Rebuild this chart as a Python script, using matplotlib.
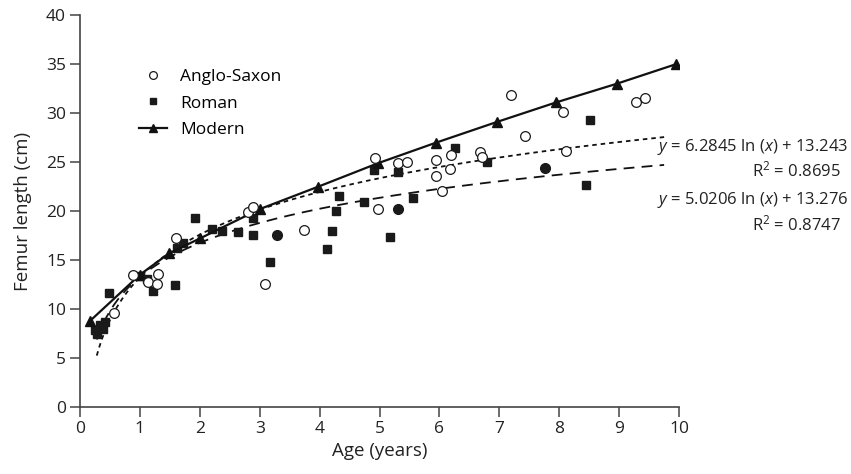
import numpy as np
import matplotlib
matplotlib.use("Agg")
import matplotlib.pyplot as plt

plt.rcParams['font.family'] = ['Open Sans', 'DejaVu Sans']
plt.rcParams['mathtext.fontset'] = 'custom'
plt.rcParams['mathtext.rm'] = 'Open Sans'
plt.rcParams['mathtext.it'] = 'Open Sans:italic'

# Anglo-Saxon (open circles)
as_age = [0.57, 0.89, 1.14, 1.28, 1.30, 1.61, 2.81, 2.89, 3.08, 3.74, 4.92, 4.98,
          5.31, 5.45, 5.94, 5.94, 6.05, 6.18, 6.19, 6.67, 6.71, 7.20, 7.42, 8.07,
          8.11, 9.28, 9.43]
as_len = [9.6, 13.5, 12.8, 12.6, 13.6, 17.2, 19.9, 20.4, 12.6, 18.1, 25.4, 20.2,
          24.9, 25.0, 25.2, 23.6, 22.1, 24.3, 25.7, 26.0, 25.5, 31.8, 27.7, 30.1,
          26.1, 31.1, 31.5]

# Roman (filled squares)
ro_age = [0.25, 0.28, 0.33, 0.39, 0.42, 0.49, 1.00, 1.12, 1.22, 1.59, 1.62, 1.72,
          1.92, 2.20, 2.37, 2.64, 2.88, 2.89, 3.17, 4.13, 4.20, 4.28, 4.33, 4.74,
          4.91, 5.18, 5.30, 5.56, 6.26, 6.79, 8.44, 8.51]
ro_len = [7.9, 7.5, 8.4, 8.0, 8.7, 11.6, 13.4, 13.1, 11.8, 12.5, 16.2, 16.7,
          19.3, 18.2, 18.0, 17.9, 19.3, 17.6, 14.8, 16.1, 18.0, 20.0, 21.5, 20.9,
          24.2, 17.4, 24.0, 21.3, 26.4, 25.0, 22.7, 29.3]

# Overlapping points (filled circles)
ov_age = [3.28, 5.31, 7.76]
ov_len = [17.6, 20.2, 24.4]

# Modern (triangles, solid line)
mo_age = [0.17, 1.0, 1.49, 2.0, 3.0, 3.98, 4.98, 5.95, 6.96, 7.95, 8.96, 9.95]
mo_len = [8.8, 13.5, 15.7, 17.2, 20.2, 22.5, 24.9, 27.0, 29.1, 31.1, 33.0, 35.0]

# Logarithmic fits
fit_as = (6.2845, 13.243, 0.8695)
fit_ro = (5.0206, 13.276, 0.8747)

fig = plt.figure(figsize=(8.51, 4.74), dpi=100)
ax = fig.add_axes([0.094, 0.1414, 0.704, 0.8266])

xf = np.linspace(0.28, 9.75, 300)
ax.plot(xf, fit_as[0] * np.log(xf) + fit_as[1], color='#111111', lw=1.3,
        linestyle=(0, (2.5, 2.2)))
ax.plot(xf, fit_ro[0] * np.log(xf) + fit_ro[1], color='#111111', lw=1.3,
        linestyle=(0, (6, 4)))

ax.plot(mo_age, mo_len, color='#111111', lw=1.6, marker='^', ms=7.5,
        label='Modern', zorder=4)
ax.plot(ro_age, ro_len, linestyle='none', marker='s', ms=6, color='#1a1a1a',
        label='Roman', zorder=3)
ax.plot(as_age, as_len, linestyle='none', marker='o', ms=7, mfc='white',
        mec='#1a1a1a', mew=0.9, label='Anglo-Saxon', zorder=5)
ax.plot(ov_age, ov_len, linestyle='none', marker='o', ms=7, color='#1a1a1a',
        zorder=5)

ax.set_xlim(0, 10)
ax.set_ylim(0, 40)
ax.set_xticks(range(0, 11))
ax.set_yticks(range(0, 41, 5))
for s in ['top', 'right']:
    ax.spines[s].set_visible(False)
for s in ['left', 'bottom']:
    ax.spines[s].set_color('#444444')
    ax.spines[s].set_linewidth(1.2)
ax.tick_params(direction='out', length=7, width=1.1, color='#444444',
               labelsize=12.5, labelcolor='#222222', pad=3)
ax.set_xlabel('Age (years)', fontsize=13.5, color='#222222', labelpad=4)
ax.set_ylabel('Femur length (cm)', fontsize=13.5, color='#222222', labelpad=10)

h, l = ax.get_legend_handles_labels()
order = [2, 1, 0]
ax.legend([h[i] for i in order], [l[i] for i in order], loc='upper left',
          bbox_to_anchor=(0.072, 0.902), frameon=False, fontsize=12.5,
          handlelength=1.6, labelspacing=0.58, markerscale=0.8,
          handletextpad=0.8)

tx = 848
def fig_text(x, y, s, ha):
    fig.text(x / 851, 1 - y / 474, s, ha=ha, va='center', fontsize=12,
             color='#222222')

fig_text(tx, 147, r'$\it{y}$ = %.4f ln ($\it{x}$) + %.3f' % (fit_as[0], fit_as[1]), 'right')
fig_text(796, 170, 'R$^2$ = %.4f' % fit_as[2], 'center')
fig_text(tx, 200, r'$\it{y}$ = %.4f ln ($\it{x}$) + %.3f' % (fit_ro[0], fit_ro[1]), 'right')
fig_text(796, 224, 'R$^2$ = %.4f' % fit_ro[2], 'center')

fig.savefig('out.png', dpi=100)
